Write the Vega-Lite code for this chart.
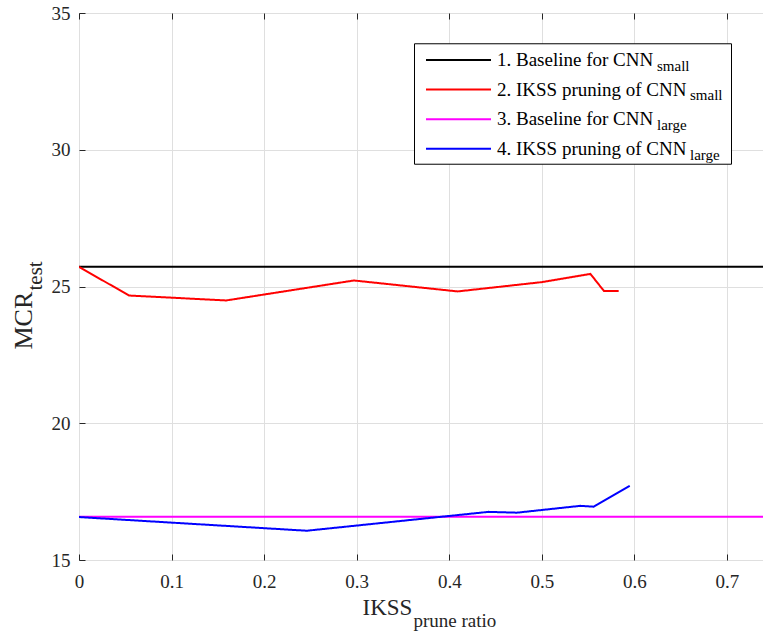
{
  "$schema": "https://vega.github.io/schema/vega-lite/v6.json",
  "width": 685,
  "height": 547,
  "autosize": {"type": "none"},
  "padding": {"left": 79, "top": 13, "right": 0, "bottom": 72},
  "background": "#ffffff",
  "config": {"view": {"stroke": "#262626", "strokeWidth": 1}, "font": "Liberation Serif"},
  "data": {
    "values": [
      {"series": "1. Baseline for CNN", "x": 0, "y": 25.72},
      {"series": "1. Baseline for CNN", "x": 0.74, "y": 25.72},
      {"series": "2. IKSS pruning of CNN", "x": 0, "y": 25.72},
      {"series": "2. IKSS pruning of CNN", "x": 0.054, "y": 24.67},
      {"series": "2. IKSS pruning of CNN", "x": 0.159, "y": 24.49},
      {"series": "2. IKSS pruning of CNN", "x": 0.297, "y": 25.22},
      {"series": "2. IKSS pruning of CNN", "x": 0.409, "y": 24.82},
      {"series": "2. IKSS pruning of CNN", "x": 0.5, "y": 25.16},
      {"series": "2. IKSS pruning of CNN", "x": 0.5525, "y": 25.46},
      {"series": "2. IKSS pruning of CNN", "x": 0.567, "y": 24.84},
      {"series": "2. IKSS pruning of CNN", "x": 0.583, "y": 24.84},
      {"series": "3. Baseline for CNN", "x": 0, "y": 16.58},
      {"series": "3. Baseline for CNN", "x": 0.74, "y": 16.58},
      {"series": "4. IKSS pruning of CNN", "x": 0, "y": 16.57},
      {"series": "4. IKSS pruning of CNN", "x": 0.246, "y": 16.07},
      {"series": "4. IKSS pruning of CNN", "x": 0.4425, "y": 16.76},
      {"series": "4. IKSS pruning of CNN", "x": 0.473, "y": 16.73},
      {"series": "4. IKSS pruning of CNN", "x": 0.5416, "y": 16.98},
      {"series": "4. IKSS pruning of CNN", "x": 0.556, "y": 16.95},
      {"series": "4. IKSS pruning of CNN", "x": 0.595, "y": 17.71}
    ]
  },
  "transform": [
    {"calculate": "datum.series", "as": "sb"},
    {"calculate": "datum.series", "as": "sc"},
    {"calculate": "datum.series", "as": "sd"}
  ],
  "layer": [
    {
      "mark": {"type": "line", "clip": true},
      "encoding": {
        "x": {
          "field": "x", "type": "quantitative",
          "scale": {"domain": [0, 0.74], "nice": false, "zero": false},
          "axis": {
            "orient": "bottom",
            "values": [0, 0.1, 0.2, 0.3, 0.4, 0.5, 0.6, 0.7],
            "format": "~g", "labelFlush": false,
            "grid": true, "gridColor": "#dfdfdf", "gridWidth": 1,
            "domain": false,
            "tickColor": "#262626", "tickSize": -6, "tickWidth": 1,
            "labelFont": "Liberation Serif", "labelFontSize": 19, "labelColor": "#262626", "labelPadding": 18,
            "title": "IKSS", "titleFont": "Liberation Serif", "titleFontSize": 23, "titleFontWeight": "normal",
            "titleColor": "#262626", "titleAlign": "left", "titleBaseline": "alphabetic",
            "titleX": 283, "titleY": 54
          }
        },
        "y": {
          "field": "y", "type": "quantitative",
          "scale": {"domain": [15, 35], "nice": false, "zero": false},
          "axis": {
            "orient": "left",
            "values": [15, 20, 25, 30, 35], "labelFlush": false,
            "grid": true, "gridColor": "#dfdfdf", "gridWidth": 1,
            "domain": false,
            "tickColor": "#262626", "tickSize": -6, "tickWidth": 1,
            "labelFont": "Liberation Serif", "labelFontSize": 19, "labelColor": "#262626", "labelPadding": 15,
            "title": "MCR", "titleFont": "Liberation Serif", "titleFontSize": 26, "titleFontWeight": "normal",
            "titleColor": "#262626", "titleAngle": -90, "titleAlign": "left", "titleBaseline": "alphabetic",
            "titleX": -48, "titleY": 336
          }
        },
        "color": {
          "field": "series", "type": "nominal",
          "scale": {"range": ["#000000", "#ff0000", "#ff00ff", "#0000ff"]},
          "legend": {
            "orient": "none", "legendX": 370, "legendY": 37.5, "title": null, "zindex": 2,
            "symbolType": "M-5,0H5", "symbolSize": 169, "symbolStrokeWidth": 2,
            "labelFont": "Liberation Serif", "labelFontSize": 19, "labelColor": "#000000",
            "labelOffset": 29, "labelLimit": 500, "rowPadding": 9.6, "padding": 0
          }
        },
        "strokeDash": {
          "field": "sb", "type": "nominal",
          "scale": {"range": [[1, 0], [1, 0], [1, 0], [1, 0]]},
          "legend": {
            "orient": "none", "legendX": 361, "legendY": 45.2, "title": null, "zindex": 2,
            "symbolType": "circle", "symbolSize": 1, "symbolOpacity": 0,
            "labelFont": "Liberation Serif", "labelFontSize": 15, "labelColor": "#000000",
            "labelOffset": 202, "labelLimit": 500, "rowPadding": 13.6, "padding": 0,
            "labelExpr": "substring(datum.label,0,1) == '1' ? 'small' : substring(datum.label,0,1) == '3' ? 'large' : ''"
          }
        },
        "strokeWidth": {
          "field": "sc", "type": "ordinal",
          "scale": {"type": "ordinal", "range": [2, 2, 2, 2]},
          "legend": {
            "orient": "none", "legendX": 361, "legendY": 45.2, "title": null, "zindex": 2,
            "symbolType": "circle", "symbolSize": 1, "symbolOpacity": 0,
            "labelFont": "Liberation Serif", "labelFontSize": 15, "labelColor": "#000000",
            "labelOffset": 235, "labelLimit": 500, "rowPadding": 13.6, "padding": 0,
            "labelExpr": "substring(datum.label,0,1) == '2' ? 'small' : substring(datum.label,0,1) == '4' ? 'large' : ''"
          }
        },
        "opacity": {
          "field": "sd", "type": "ordinal",
          "scale": {"type": "ordinal", "range": [1, 1, 1, 1]},
          "legend": {
            "orient": "none", "legendX": 335, "legendY": -68, "title": null, "zindex": 1,
            "values": ["1. Baseline for CNN"],
            "symbolType": "M-1,-0.38H1V0.38H-1Z", "symbolSize": 100489,
            "symbolFillColor": "#ffffff", "symbolStrokeColor": "#000000", "symbolStrokeWidth": 1, "symbolOpacity": 1,
            "labelExpr": "''", "padding": 0
          }
        }
      }
    },
    {
      "mark": {"type": "line", "strokeOpacity": 0},
      "encoding": {
        "x": {
          "field": "x", "type": "quantitative",
          "axis": {
            "orient": "top", "values": [0, 0.1, 0.2, 0.3, 0.4, 0.5, 0.6, 0.7],
            "labels": false, "grid": false, "domain": false, "title": null,
            "tickColor": "#262626", "tickSize": -6, "tickWidth": 1
          }
        },
        "y": {"field": "y", "type": "quantitative", "axis": null},
        "detail": {"field": "series"}
      }
    },
    {
      "mark": {"type": "line", "strokeOpacity": 0},
      "encoding": {
        "x": {
          "field": "x", "type": "quantitative",
          "axis": {
            "orient": "bottom", "labels": false, "ticks": false, "grid": false, "domain": false,
            "title": "prune ratio", "titleFont": "Liberation Serif", "titleFontSize": 19, "titleFontWeight": "normal",
            "titleColor": "#262626", "titleAlign": "left", "titleBaseline": "alphabetic",
            "titleX": 334, "titleY": 66
          }
        },
        "y": {
          "field": "y", "type": "quantitative",
          "axis": {
            "orient": "left", "labels": false, "ticks": false, "grid": false, "domain": false,
            "title": "test", "titleFont": "Liberation Serif", "titleFontSize": 21, "titleFontWeight": "normal",
            "titleColor": "#262626", "titleAngle": -90, "titleAlign": "left", "titleBaseline": "alphabetic",
            "titleX": -38, "titleY": 277
          }
        },
        "detail": {"field": "series"}
      }
    }
  ],
  "resolve": {"axis": {"x": "independent", "y": "independent"}}
}
